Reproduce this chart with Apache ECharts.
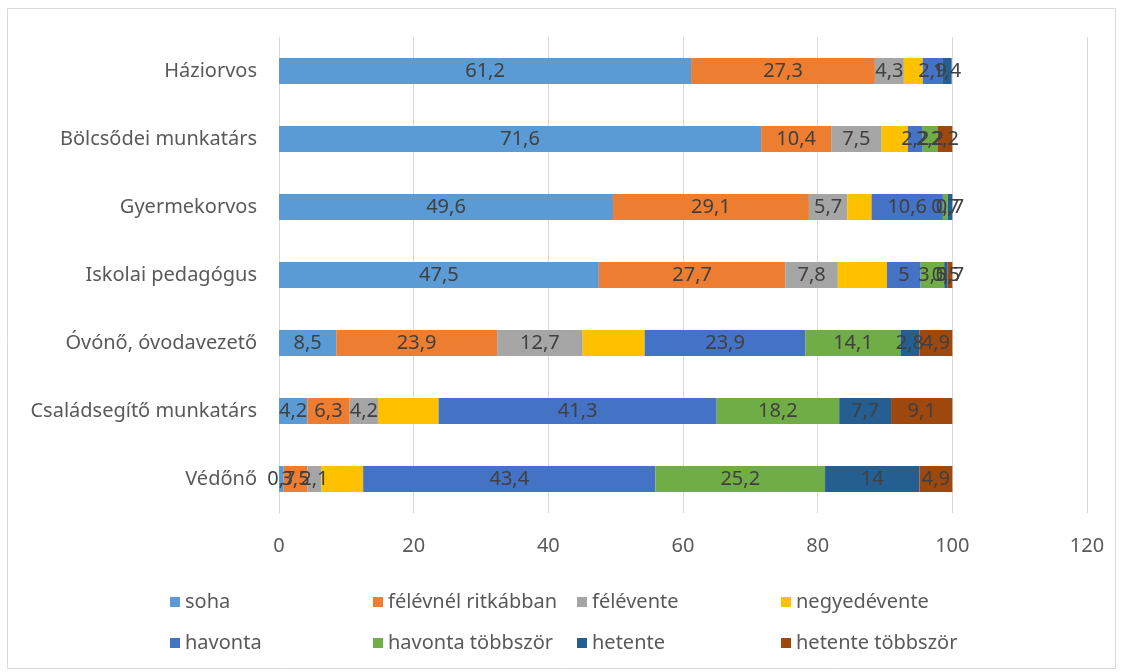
<!DOCTYPE html>
<html>
<head>
<meta charset="utf-8">
<script src="https://cdn.jsdelivr.net/npm/echarts@6/dist/echarts.min.js"></script>
<style>html,body{margin:0;padding:0;background:#fff}#c{width:1123px;height:672px}</style>
</head>
<body>
<div id="c"></div>
<script>
const categories = ['Háziorvos','Bölcsődei munkatárs','Gyermekorvos','Iskolai pedagógus','Óvónő, óvodavezető','Családsegítő munkatárs','Védőnő'];
const seriesNames = ['soha','félévnél ritkábban','félévente','negyedévente','havonta','havonta többször','hetente','hetente többször'];
const soha = [61.2, 71.6, 49.6, 47.5, 8.5, 4.2, 0.7];
const felevnelRitkabban = [27.3, 10.4, 29.1, 27.7, 23.9, 6.3, 3.5];
const felevente = [4.3, 7.5, 5.7, 7.8, 12.7, 4.2, 2.1];
const negyedevente = [2.8, 3.9, 3.6, 7.3, 9.2, 9.0, 6.2];
const havonta = [2.9, 2.2, 10.6, 5, 23.9, 41.3, 43.4];
const havontaTobbszor = [0, 2.2, 0.7, 3.5, 14.1, 18.2, 25.2];
const hetente = [1.4, 0, 0.7, 0.5, 2.8, 7.7, 14];
const hetenteTobbszor = [0, 2.2, 0, 0.7, 4.9, 9.1, 4.9];
const xTicks = [0, 20, 40, 60, 80, 100, 120];

const values = [soha, felevnelRitkabban, felevente, negyedevente, havonta, havontaTobbszor, hetente, hetenteTobbszor];
const colors = ['#5B9BD5','#ED7D31','#A5A5A5','#FFC000','#4472C4','#70AD47','#255E91','#9E480E'];
const showLabel = [true, true, true, false, true, true, true, true];
const FONT = '"Noto Sans", "Open Sans", sans-serif';

const chart = echarts.init(document.getElementById('c'), null, {renderer: 'canvas'});
const series = seriesNames.map((n, i) => ({
  name: n,
  type: 'bar',
  stack: 'total',
  barWidth: 26,
  itemStyle: {color: colors[i]},
  label: {
    show: showLabel[i],
    position: 'inside',
    color: '#404040',
    fontFamily: FONT,
    fontSize: 20,
    formatter: p => (p.value === 0 ? '' : String(p.value).replace('.', ','))
  },
  labelLayout: {hideOverlap: false},
  data: values[i]
}));

const legendX = [165, 368, 572, 776];
const legends = seriesNames.map((n, i) => ({
  data: [n],
  left: legendX[i % 4],
  top: i < 4 ? 587 : 628,
  itemWidth: 10, itemHeight: 10, itemGap: 0,
  icon: 'rect',
  textStyle: {color: '#595959', fontFamily: FONT, fontSize: 20},
  selectedMode: false
}));

chart.setOption({
  animation: false,
  textStyle: {fontFamily: FONT},
  graphic: [{type: 'rect', shape: {x: 7.5, y: 8.5, width: 1108, height: 660}, style: {fill: 'none', stroke: '#d9d9d9', lineWidth: 1}, silent: true}],
  grid: {left: 279, right: 36, top: 37, bottom: 159, containLabel: false},
  xAxis: {
    type: 'value', min: 0, max: 120, interval: 20,
    axisLine: {show: false}, axisTick: {show: false},
    splitLine: {lineStyle: {color: '#d9d9d9', width: 1}},
    axisLabel: {color: '#595959', fontSize: 20, fontFamily: FONT, margin: 23,
      formatter: v => xTicks.includes(v) ? String(v) : ''}
  },
  yAxis: {
    type: 'category', data: categories, inverse: true,
    axisLine: {show: true, lineStyle: {color: '#d9d9d9'}},
    axisTick: {show: false},
    axisLabel: {color: '#595959', fontSize: 20, fontFamily: FONT, margin: 22}
  },
  legend: legends,
  series: series
});
</script>
</body>
</html>
